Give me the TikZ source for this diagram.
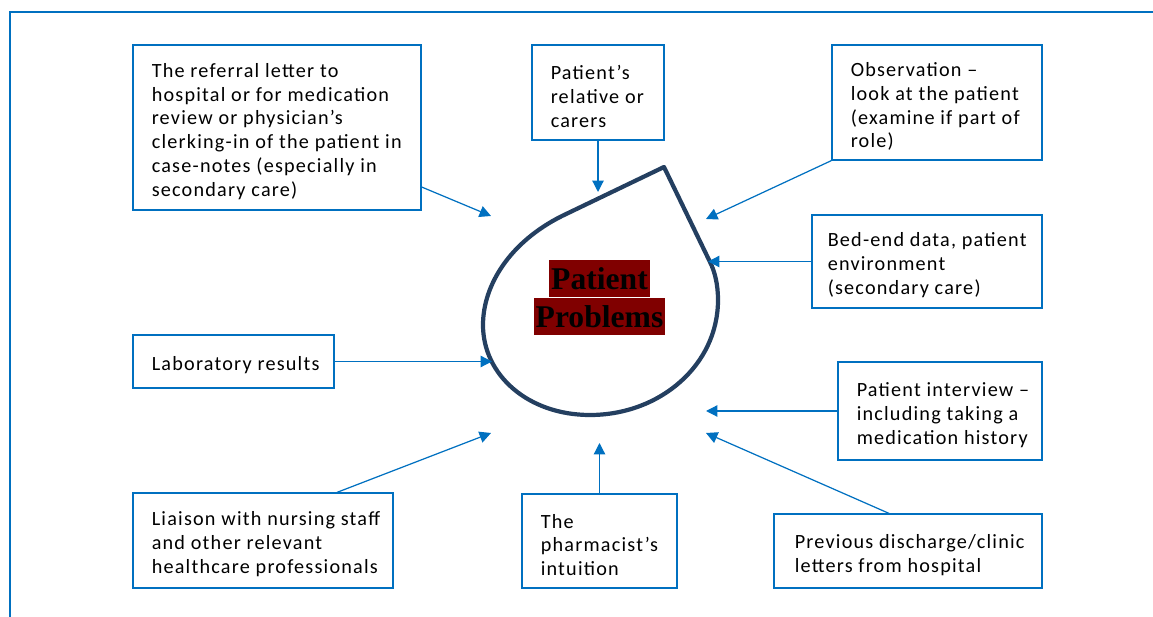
\documentclass[tikz,border=0pt]{standalone}
\usepackage{fontspec}
\setmainfont{Carlito}[LetterSpace=6]
\newfontfamily\probfont{Liberation Serif}
\usetikzlibrary{arrows.meta,positioning}
\definecolor{linkblue}{RGB}{0,112,192}
\definecolor{dropblue}{RGB}{36,63,96}
\definecolor{hilite}{RGB}{128,0,0}
\tikzstyle{srcbox} = [rectangle, draw=linkblue, line width=0.7pt]
\tikzstyle{srctext} = [inner xsep=0.38cm, inner ysep=0pt, align=left, yshift=-0.08cm,
    font=\fontsize{11.5}{13.6}\selectfont]
\tikzstyle{probtext} = [fill=hilite, text=black, inner xsep=1pt, inner ysep=0pt,
    minimum height=0.74cm, font=\probfont\bfseries\fontsize{18}{20}\selectfont]
\tikzstyle{feed} = [draw=linkblue, line width=0.7pt, -{Triangle[length=6.5pt,width=6.5pt]}]

\begin{document}
\begin{tikzpicture}[x=0.02cm, y=-0.02cm]
    \useasboundingbox (0,0) rectangle (1153,617);
    % Frame and drop
    \draw [linkblue, line width=0.8pt] (10,617) -- (10,12) -- (1153,12);
    \draw [dropblue, line width=2.4pt, line join=round] (664,167) -- (562,216)
        .. controls (510,242) and (483,285) .. (483,325)
        .. controls (483,375) and (528,415) .. (590,415)
        .. controls (660,415) and (718,365) .. (718,300)
        .. controls (718,285) and (715,272) .. (710,262) -- cycle;
    \node [probtext] (patient) at (599.5,278.5) {Patient};
    \node [probtext, below=0pt of patient] (problems) {Problems};
    % Place nodes
    \node [srcbox, minimum width=5.76cm, minimum height=3.3cm] (referral) at (277,127.5) {};
    \node [srctext, right=0pt of referral.west] (referral-text) {The referral letter to\\hospital or for medication\\review or physician’s\\clerking-in of the patient in\\case-notes (especially in\\secondary care)};
    \node [srcbox, minimum width=2.64cm, minimum height=1.9cm] (relative) at (598,92.5) {};
    \node [srctext, right=0pt of relative.west] (relative-text) {Patient’s\\relative or\\carers};
    \node [srcbox, minimum width=4.2cm, minimum height=2.3cm] (observation) at (937,102.5) {};
    \node [srctext, right=0pt of observation.west] (observation-text) {Observation –\\look at the patient\\(examine if part of\\role)};
    \node [srcbox, minimum width=4.6cm, minimum height=1.86cm] (bedend) at (927,261.5) {};
    \node [srctext, inner xsep=0.32cm, right=0pt of bedend.west] (bedend-text) {Bed-end data, patient\\environment\\(secondary care)};
    \node [srcbox, minimum width=4.02cm, minimum height=1.06cm] (lab) at (233.5,361.5) {};
    \node [srctext, right=0pt of lab.west] (lab-text) {Laboratory results};
    \node [srcbox, minimum width=4.08cm, minimum height=1.96cm] (interview) at (940,411) {};
    \node [srctext, right=0pt of interview.west] (interview-text) {Patient interview –\\including taking a\\medication history};
    \node [srcbox, minimum width=5.2cm, minimum height=1.9cm] (liaison) at (263,540.5) {};
    \node [srctext, right=0pt of liaison.west] (liaison-text) {Liaison with nursing staff\\and other relevant\\healthcare professionals};
    \node [srcbox, minimum width=3.1cm, minimum height=1.88cm] (intuition) at (599.5,541) {};
    \node [srctext, right=0pt of intuition.west] (intuition-text) {The\\pharmacist’s\\intuition};
    \node [srcbox, minimum width=5.36cm, minimum height=1.48cm] (previous) at (908,551) {};
    \node [srctext, inner xsep=0.42cm, right=0pt of previous.west] (previous-text) {Previous discharge/clinic\\letters from hospital};
    % Arrow ends at the drop
    \coordinate (to-referral) at (491,216);
    \coordinate (to-relative) at (598,192);
    \coordinate (to-observation) at (706,219);
    \coordinate (to-bedend) at (708,261.5);
    \coordinate (to-lab) at (492,361.5);
    \coordinate (to-interview) at (706,411);
    \coordinate (to-liaison) at (491,433);
    \coordinate (to-intuition) at (599.5,443);
    \coordinate (to-previous) at (706,433);
    % Draw edges
    \path [feed] ([yshift=-1.19cm]referral.east) -- (to-referral);
    \path [feed] (relative.south) -- (to-relative);
    \path [feed] (observation.south west) -- (to-observation);
    \path [feed] (bedend.west) -- (to-bedend);
    \path [feed] (lab.east) -- (to-lab);
    \path [feed] (interview.west) -- (to-interview);
    \path [feed] ([xshift=1.48cm]liaison.north) -- (to-liaison);
    \path [feed] (intuition.north) -- (to-intuition);
    \path [feed] ([xshift=-0.38cm]previous.north) -- (to-previous);
\end{tikzpicture}
\end{document}
